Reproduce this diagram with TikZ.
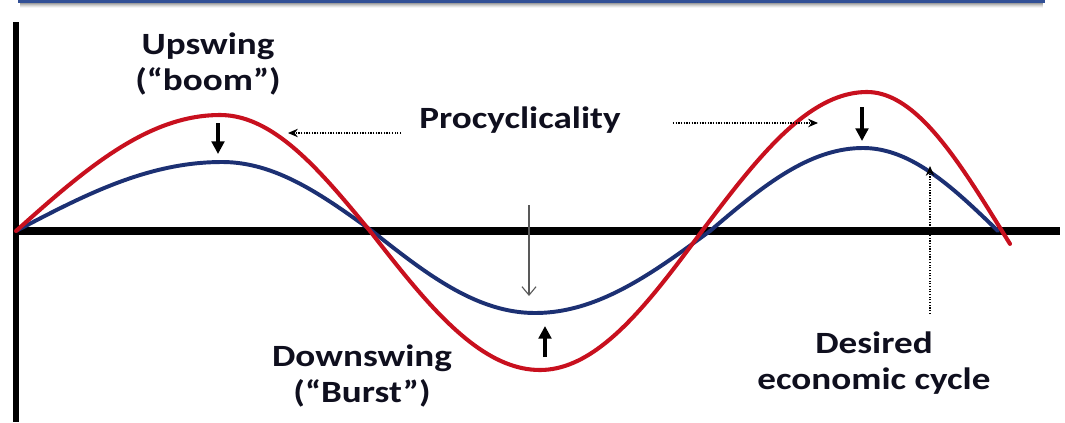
\documentclass[tikz,border=0pt]{standalone}
\usepackage{fontspec}
\setmainfont{Carlito}[FakeStretch=1.2]
\usetikzlibrary{arrows.meta, positioning, calc}
\definecolor{cycred}{RGB}{200,16,30}
\definecolor{cycblue}{RGB}{28,48,115}
\definecolor{barblue}{RGB}{50,80,150}
\definecolor{lbltext}{RGB}{15,15,30}

\begin{document}
\begin{tikzpicture}[
    x=0.025cm, y=-0.025cm,
    lbl/.style={font=\bfseries\fontsize{22}{25}\selectfont, text=lbltext, align=center, inner sep=0pt},
    redline/.style={draw=cycred, line width=2.9pt, line cap=round},
    blueline/.style={draw=cycblue, line width=2.8pt, line cap=round},
    push/.style={-{Triangle[length=9pt, width=9pt]}, line width=2.2pt},
    hint/.style={-{Stealth[length=7pt, width=6pt]}, densely dotted, line width=0.9pt},
    thin arrow/.style={-{Straight Barb[length=6pt, width=10pt]}, draw=black!65, line width=0.8pt},
  ]
  \useasboundingbox (0,0) rectangle (1065,422);

  % top bar with its shadow
  \foreach \d/\o in {1/0.25, 2/0.18, 3/0.12, 4/0.07, 5/0.04}
    \draw[black, opacity=\o, line width=1.2pt] (20,2+\d) -- (1043,2+\d);
  \draw[barblue, line width=2.2pt] (18,1.5) -- (1045,1.5);

  % axes
  \draw[line width=3.6pt] (16,22) -- (16,422);
  \draw[line width=5.6pt] (14,231) -- (1060,231);

  % cycles
  \foreach \a/\p/\b/\e/\yp in {16/222/372/372/162, 372/535/710/710/313, 710/863/998/998/148}
    \draw[blueline] plot[domain=\a:\p, samples=40] (\x,{231-(231-\yp)*sin(90*((\x-\a)/(\p-\a)))})
      -- plot[domain=\p:\e, samples=40] (\x,{231-(231-\yp)*cos(90*((\x-\p)/(\b-\p)))});
  \foreach \a/\p/\b/\e/\yp in {16/220/370/370/115, 370/540/702/702/370, 702/867/1002/1010/92}
    \draw[redline] plot[domain=\a:\p, samples=40] (\x,{231-(231-\yp)*sin(90*((\x-\a)/(\p-\a)))})
      -- plot[domain=\p:\e, samples=40] (\x,{231-(231-\yp)*cos(90*((\x-\p)/(\b-\p)))});

  % labels
  \node[lbl] (upswing) at (208,64) {Upswing\\(“boom”)};
  \node[lbl, anchor=base] (procyc) at (520,128) {Procyclicality};
  \node[lbl] (downswing) at (362,376) {Downswing\\(“Burst”)};
  \node[lbl] (desired) at (874,363) {Desired\\economic cycle};

  % points on the curves
  \coordinate (lhit) at (288,133);
  \coordinate (rhit) at (818,123);
  \coordinate (dhit) at (930,166);
  \coordinate (boomA) at (218,123);
  \coordinate (boomB) at (218,154);
  \coordinate (peakA) at (862,107);
  \coordinate (peakB) at (862,141);
  \coordinate (burstA) at (545,357);
  \coordinate (burstB) at (545,326);
  \coordinate (dropA) at (529,205);
  \coordinate (dropB) at (529,296);

  \draw[hint, shorten <=0.45cm] (procyc.west |- lhit) -- (lhit);
  \draw[hint, shorten <=1.3cm] (procyc.east |- rhit) -- (rhit);
  \draw[hint, shorten <=0.45cm] (desired.north -| dhit) -- (dhit);

  \draw[push] (boomA) -- (boomB);
  \draw[push] (peakA) -- (peakB);
  \draw[push] (burstA) -- (burstB);
  \draw[thin arrow] (dropA) -- (dropB);
\end{tikzpicture}
\end{document}
